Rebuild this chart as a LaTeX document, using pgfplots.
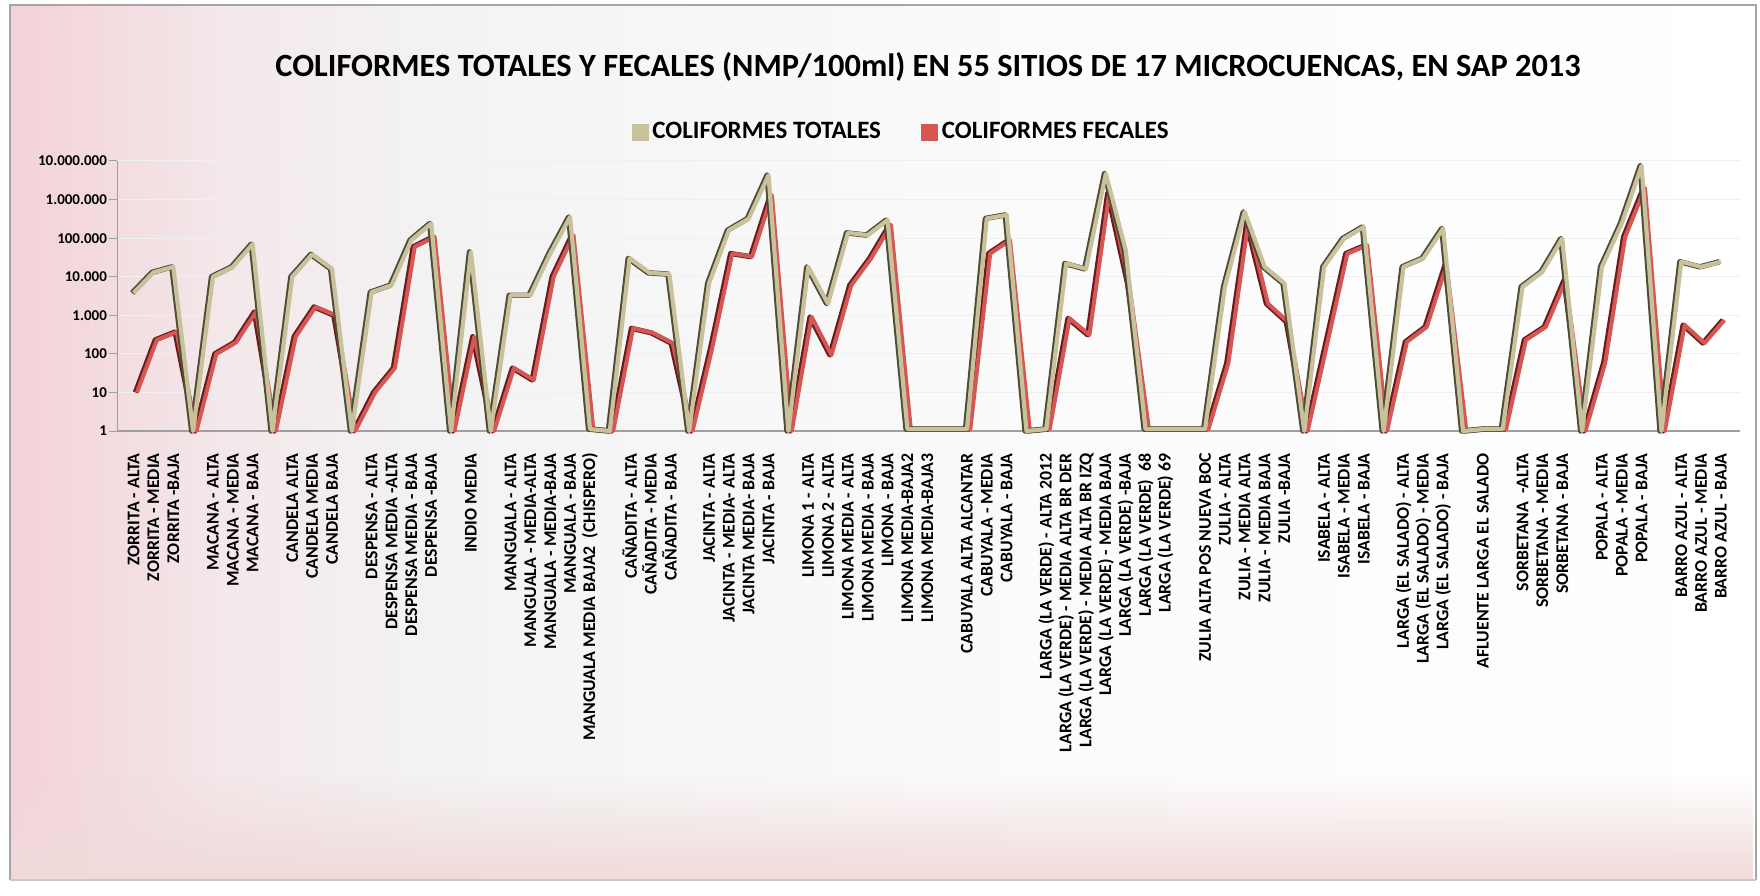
\documentclass[border=0pt]{standalone}
\usepackage{pgfplots}
\pgfplotsset{compat=1.18}
\usepackage{pgfplotstable}
\usepackage{fontspec}
\setmainfont{Carlito}
\usetikzlibrary{fadings}
\definecolor{tanC}{RGB}{200,193,155}
\definecolor{tanD}{RGB}{78,76,52}
\definecolor{redC}{RGB}{214,86,84}
\definecolor{redD}{RGB}{105,28,28}
\definecolor{pinkL}{RGB}{243,210,216}
\definecolor{bgC}{RGB}{243,243,243}
\definecolor{pinkB}{RGB}{241,218,218}
\definecolor{frameC}{RGB}{165,165,165}
\pgfdeclarehorizontalshading{bgshade}{100bp}{color(0bp)=(pinkL); color(25bp)=(pinkL); color(27bp)=(pinkL!80!bgC); color(31bp)=(pinkL!35!bgC); color(37.5bp)=(bgC); color(52bp)=(white!60!bgC); color(75bp)=(white); color(100bp)=(white)}

\pgfplotstableread{
x tot fec
1 3800 10
2 13000 230
3 18000 370
4 1 1
5 10000 100
6 18000 200
7 70000 1230
8 1 1
9 10000 280
10 38000 1650
11 16000 1000
12 1 1
13 4000 10
14 6000 43
15 89000 60000
16 240000 108000
17 1 1
18 44000 280
19 1 1
20 3300 43
21 3300 21
22 40000 10000
23 355000 120000
24 1.12 1.12
25 1 1
26 30000 460
27 12600 350
28 11700 190
29 1 1
30 6700 150
31 160000 40000
32 320000 33000
33 4300000 1300000
34 1 1
35 18000 910
36 2000 93
37 137000 6000
38 120000 30000
39 295000 220000
40 1.12 1.12
41 1.12 1.12
42 1.12 1.12
43 1.12 1.12
44 325000 40000
45 400000 89000
46 1 1
47 1.12 1.12
48 22000 830
49 16000 310
50 4700000 1450000
51 49000 6700
52 1.12 1.12
53 1.12 1.12
54 1.12 1.12
55 1.12 1.12
56 5500 57
57 480000 240000
58 18000 2000
59 6700 680
60 1 1
61 18000 200
62 98000 40000
63 195000 66000
64 1 1
65 18000 205
66 30000 500
67 178000 20000
68 1 1
69 1.12 1.12
70 1.12 1.12
71 5500 230
72 13400 500
73 98000 8100
74 1 1
75 18000 60
76 240000 108000
77 7500000 2000000
78 1 1
79 24500 560
80 18000 190
81 24500 750
}\data

\begin{document}
\begin{tikzpicture}
\path[use as bounding box] (0pt,0pt) rectangle (880pt,447.5pt);
\fill[white] (0pt,0pt) rectangle (880pt,447.5pt);
% frame background
\shade[shading=bgshade] (5pt,7.5pt) rectangle (878pt,445pt);
\fill[pinkB, path fading=north] (5pt,7.5pt) rectangle (878pt,60pt);
\draw[frameC, line width=1pt] (5pt,7.5pt) -- (5pt,445pt) -- (878pt,445pt) -- (878pt,7.5pt);
\draw[frameC!60, line width=0.8pt] (5pt,7.5pt) -- (878pt,7.5pt);

\node[font=\bfseries\fontsize{16.2}{16.2}\selectfont] at (464pt,414pt)
 {COLIFORMES TOTALES Y FECALES (NMP/100ml) EN 55 SITIOS DE 17 MICROCUENCAS, EN SAP 2013};

\begin{axis}[
 at={(58.65pt,232pt)}, anchor=south west,
 scale only axis, width=811.35pt, height=135pt,
 ymode=log, ymin=1, ymax=1e7,
 xmin=0.18, xmax=81.96,
 axis x line*=bottom, axis y line*=left,
 axis line style={draw=gray!75, line width=0.6pt, -},
 xtick={1,...,81},
 xticklabels={ZORRITA - ALTA, ZORRITA - MEDIA, ZORRITA -BAJA, {}, MACANA - ALTA, MACANA - MEDIA, MACANA - BAJA, {}, CANDELA ALTA, CANDELA MEDIA, CANDELA BAJA, {}, DESPENSA - ALTA, DESPENSA MEDIA -ALTA, DESPENSA MEDIA - BAJA, DESPENSA -BAJA, {}, INDIO MEDIA, {}, MANGUALA - ALTA, MANGUALA - MEDIA-ALTA, MANGUALA - MEDIA-BAJA, MANGUALA - BAJA, MANGUALA MEDIA BAJA2 \ (CHISPERO), {}, CAÑADITA - ALTA, CAÑADITA - MEDIA, CAÑADITA - BAJA, {}, JACINTA - ALTA, JACINTA - MEDIA- ALTA, JACINTA MEDIA- BAJA, JACINTA - BAJA, {}, LIMONA 1 - ALTA, LIMONA 2 - ALTA, LIMONA MEDIA - ALTA, LIMONA MEDIA - BAJA, LIMONA - BAJA, LIMONA MEDIA-BAJA2, LIMONA MEDIA-BAJA3, {}, CABUYALA ALTA ALCANTAR, CABUYALA - MEDIA, CABUYALA - BAJA, {}, LARGA (LA VERDE) - ALTA 2012, LARGA (LA VERDE) - MEDIA ALTA BR DER, LARGA (LA VERDE) - MEDIA ALTA BR IZQ, LARGA (LA VERDE) - MEDIA BAJA, LARGA (LA VERDE) -BAJA, LARGA (LA VERDE) \ 68, LARGA (LA VERDE) 69, {}, ZULIA ALTA POS NUEVA BOC, ZULIA - ALTA, ZULIA - MEDIA ALTA, ZULIA - MEDIA BAJA, ZULIA -BAJA, {}, ISABELA - ALTA, ISABELA - MEDIA, ISABELA - BAJA, {}, LARGA (EL SALADO) - ALTA, LARGA (EL SALADO) - MEDIA, LARGA (EL SALADO) - BAJA, {}, AFLUENTE LARGA EL SALADO, {}, SORBETANA \ -ALTA, SORBETANA - MEDIA, SORBETANA - BAJA, {}, POPALA - ALTA, POPALA - MEDIA, POPALA - BAJA, {}, BARRO AZUL - ALTA, BARRO AZUL - MEDIA, BARRO AZUL - BAJA},
 xticklabel style={rotate=90, anchor=east, font=\bfseries\fontsize{8.9}{8.9}\selectfont, inner sep=0pt},
 xticklabel shift=7pt,
 xtick style={draw=none},
 ytick={1,10,100,1000,10000,100000,1000000,10000000},
 yticklabels={1,10,100,1.000,10.000,100.000,1.000.000,10.000.000},
 yticklabel style={font=\bfseries\fontsize{7.5}{8}\selectfont, inner sep=1pt},
 ytick style={draw=gray!75, line width=0.5pt},
 yminorticks=false,
 tick align=outside, major tick length=4pt,
 ymajorgrids, grid style={draw=gray!12, line width=0.5pt},
 legend style={at={(0.4836,1.107)}, anchor=center, legend columns=2, draw=none, fill=none,
   font=\bfseries\fontsize{12.5}{12.5}\selectfont,
   /tikz/every even column/.append style={column sep=18pt}},
 legend image code/.code={\fill[#1] (0pt,-4pt) rectangle (8pt,4pt);},
 clip=false,
 line join=round,
]
\addlegendimage{tanC}\addlegendentry{COLIFORMES TOTALES}
\addlegendimage{redC}\addlegendentry{COLIFORMES FECALES}
\addplot[forget plot, redD, line width=2.6pt, xshift=0.9pt] table[x=x,y=fec]{\data};
\addplot[forget plot, redC, line width=2pt, xshift=1.7pt] table[x=x,y=fec]{\data};
\addplot[forget plot, tanD, line width=2.7pt, xshift=-0.7pt] table[x=x,y=tot]{\data};
\addplot[forget plot, tanC, line width=2.1pt] table[x=x,y=tot]{\data};
\end{axis}
\end{tikzpicture}
\end{document}
